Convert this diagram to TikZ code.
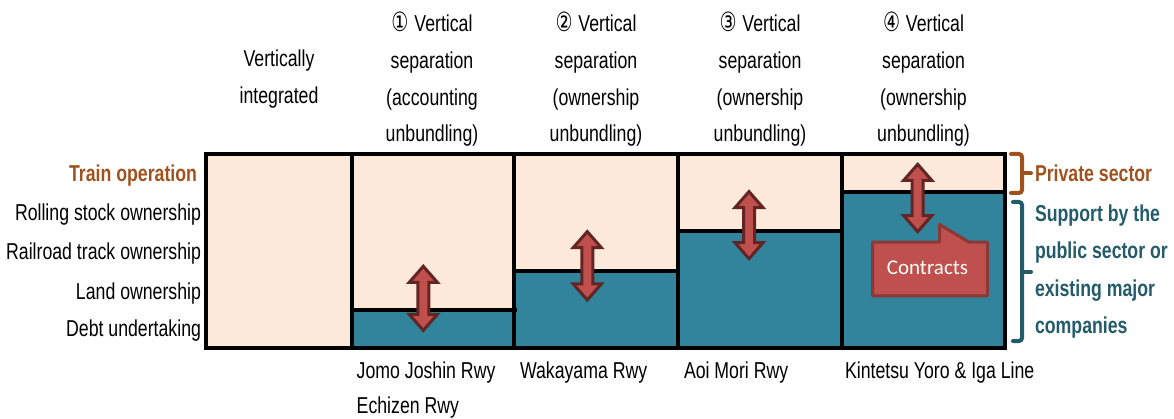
\documentclass[tikz,border=0pt]{standalone}
\usepackage{fontspec}
\setmainfont{Liberation Sans}[FakeStretch=0.77]
\newfontfamily\circfont{DejaVu Sans}[FakeStretch=0.72,Scale=1.15]
\newfontfamily\calfont{Carlito}
\definecolor{peach}{HTML}{FCE9DA}
\definecolor{tealf}{HTML}{31849B}
\definecolor{arrfill}{HTML}{C0504D}
\definecolor{arrline}{HTML}{632523}
\definecolor{callline}{HTML}{8C3836}
\definecolor{orangetxt}{HTML}{A0521E}
\definecolor{tealtxt}{HTML}{235B6A}
\newcommand{\lblfont}[1]{\fontsize{23}{#1}\selectfont}
\tikzset{
  lbl/.style={font=\lblfont{36.7}, inner sep=0pt, outer sep=0pt,
    execute at begin node={\spaceskip=4.9pt plus 1pt minus 1pt\xspaceskip=4.9pt\relax}},
  hdr/.style={lbl, text width=170pt, align=center, anchor=base},
  rowlbl/.style={lbl, anchor=base east},
  botlbl/.style={lbl, font=\lblfont{35}, text width=260pt, align=left, anchor=base west},
  frameline/.style={line width=3.5pt, draw=black},
  arrowshape/.style={fill=arrfill, draw=arrline, line width=3pt, line join=miter},
  bracestyle/.style={line width=4pt, rounded corners=3pt, line cap=round},
}
\newcommand{\dblarrow}[3]{%
  \draw[arrowshape] (#1,{#2+2.3}) -- ({#1+14},{#2+18.3}) -- ({#1+5.5},{#2+18.3})
    -- ({#1+5.5},{#3-18.3}) -- ({#1+14},{#3-18.3}) -- (#1,{#3-2.3})
    -- ({#1-14},{#3-18.3}) -- ({#1-5.5},{#3-18.3}) -- ({#1-5.5},{#2+18.3})
    -- ({#1-14},{#2+18.3}) -- cycle;}
\begin{document}
\begin{tikzpicture}[x=1pt,y=-1pt]
\useasboundingbox (0,0) rectangle (1174,419);
% headers
\node[hdr] (h0) at (279,67) {Vertically\\integrated};
\node[hdr] (h1) at (432,31.7) {{\circfont ①} Vertical\\separation\\(accounting\\unbundling)};
\node[hdr] (h2) at (596,31.7) {{\circfont ②} Vertical\\separation\\(ownership\\unbundling)};
\node[hdr] (h3) at (760,31.7) {{\circfont ③} Vertical\\separation\\(ownership\\unbundling)};
\node[hdr] (h4) at (923.5,31.7) {{\circfont ④} Vertical\\separation\\(ownership\\unbundling)};
% row labels
\node[rowlbl, font=\lblfont{36.7}\bfseries, text=orangetxt] (r0) at (197,181.7) {Train operation};
\node[rowlbl] (r1) at (201,221) {Rolling stock ownership};
\node[rowlbl] (r2) at (201,260) {Railroad track ownership};
\node[rowlbl] (r3) at (201,299.3) {Land ownership};
\node[rowlbl] (r4) at (201,336.7) {Debt undertaking};
% fills
\fill[peach] (206,154) rectangle (1005,348);
\fill[tealf] (352,310) rectangle (514,348);
\fill[tealf] (514,271) rectangle (678,348);
\fill[tealf] (678,231) rectangle (842,348);
\fill[tealf] (842,192) rectangle (1005,348);
% lines
\draw[frameline] (352,310) -- (517,310);
\draw[frameline] (514,271) -- (678,271);
\draw[frameline] (678,231) -- (842,231);
\draw[frameline] (842,192) -- (1005,192);
\draw[frameline] (352,154) -- (352,348);
\draw[frameline] (514,154) -- (514,348);
\draw[frameline] (678,154) -- (678,348);
\draw[frameline] (842,154) -- (842,348);
\draw[frameline, line width=4pt] (206,154) rectangle (1005,348);
% arrows
\dblarrow{423.3}{264}{332.7}
\dblarrow{587.3}{229.3}{302.3}
\dblarrow{749}{189.3}{261}
\dblarrow{917.7}{162}{234}
% contracts callout
\draw[fill=arrfill, draw=callline, line width=3pt, line join=round]
  (872.5,242.2) -- (939.5,242.2) -- (939.5,224.5) -- (969,242.2) -- (987.5,242.2)
  -- (987.5,295.8) -- (872.5,295.8) -- cycle;
\node[inner sep=0pt, anchor=base, text=white, font=\calfont\fontsize{21}{25}\selectfont] (contracts) at (927.5,275) {Contracts};
% braces
\draw[bracestyle, draw=orangetxt] (1011,154) -- (1022,154) -- (1022,193) -- (1011,193);
\draw[bracestyle, draw=orangetxt] (1022,173.5) -- (1031,173.5);
\draw[bracestyle, draw=tealtxt] (1013,202) -- (1022,202) -- (1022,341) -- (1013,341);
\draw[bracestyle, draw=tealtxt] (1022,271.7) -- (1031,271.7);
\node[lbl, anchor=base west, font=\lblfont{36.7}\bfseries, text=orangetxt] (priv) at (1035,181.7) {Private sector};
\node[lbl, anchor=base west, text width=150pt, align=left, font=\lblfont{37.2}\bfseries, text=tealtxt] (pub) at (1035,221.7) {Support by the\\public sector or\\existing major\\companies};
% bottom labels
\node[botlbl] (b1) at (356.7,378.3) {Jomo Joshin Rwy\\Echizen Rwy};
\node[botlbl] (b2) at (520,378.3) {Wakayama Rwy};
\node[botlbl] (b3) at (684,378.3) {Aoi Mori Rwy};
\node[botlbl] (b4) at (845,378.3) {Kintetsu Yoro \& Iga Line};
\end{tikzpicture}
\end{document}
